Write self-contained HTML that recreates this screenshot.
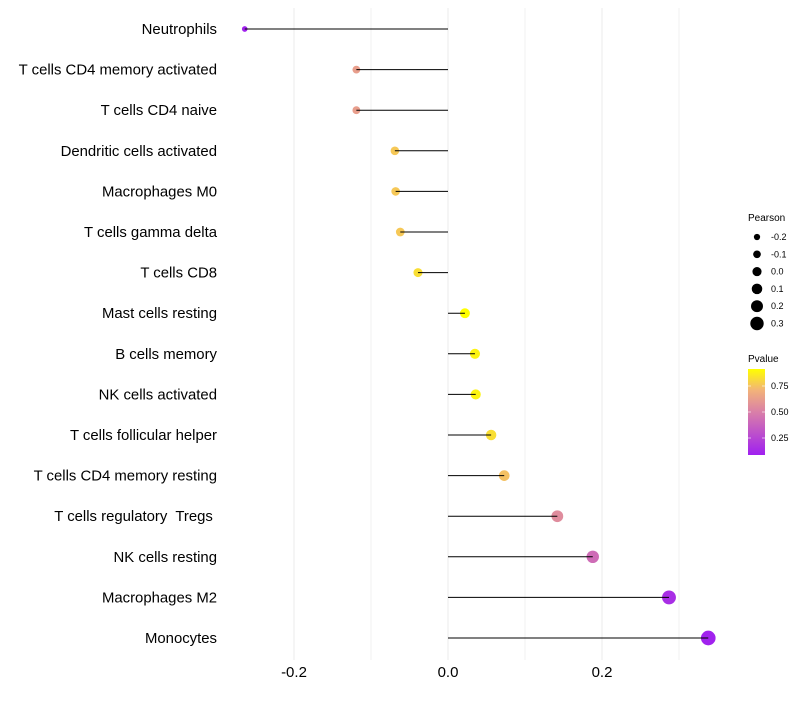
<!DOCTYPE html>
<html><head><meta charset="utf-8"><style>
body{margin:0;background:#fff;font-family:"Liberation Sans",sans-serif}
text{white-space:pre}
</style></head><body>
<svg id="c" width="800" height="700" xmlns="http://www.w3.org/2000/svg">
<defs><linearGradient id="pg" x1="0" y1="1" x2="0" y2="0">
<stop offset="0" stop-color="#a020f0"/><stop offset="0.5" stop-color="#d97fa8"/><stop offset="0.75" stop-color="#f2b27a"/><stop offset="1" stop-color="#ffff00"/></linearGradient></defs>
<g id="grid"></g><g id="dots"></g><g id="marks"></g><g id="labels"></g>
<g font-size="9" fill="#000">
<text x="748" y="221" font-size="10">Pearson</text>
<g id="sizeleg"></g>
<text x="748" y="362" font-size="10">Pvalue</text>
<rect x="748" y="369" width="17" height="86" fill="url(#pg)"/>
<g stroke="#fff" stroke-opacity="0.6"><line x1="748" y1="386" x2="751" y2="386"/><line x1="762" y1="386" x2="765" y2="386"/><line x1="748" y1="412" x2="751" y2="412"/><line x1="762" y1="412" x2="765" y2="412"/><line x1="748" y1="438" x2="751" y2="438"/><line x1="762" y1="438" x2="765" y2="438"/></g>
<text x="771" y="389">0.75</text><text x="771" y="415">0.50</text><text x="771" y="441">0.25</text>
</g>
</svg>
<script>
const categories=["Neutrophils","T cells CD4 memory activated","T cells CD4 naive","Dendritic cells activated","Macrophages M0","T cells gamma delta","T cells CD8","Mast cells resting","B cells memory","NK cells activated","T cells follicular helper","T cells CD4 memory resting","T cells regulatory  Tregs ","NK cells resting","Macrophages M2","Monocytes"];
const pearson=[-0.264,-0.119,-0.119,-0.069,-0.068,-0.062,-0.039,0.022,0.035,0.036,0.056,0.073,0.142,0.188,0.287,0.338];
const pvalue=[0.1,0.62,0.62,0.76,0.76,0.76,0.82,0.92,0.88,0.88,0.82,0.74,0.55,0.42,0.15,0.1];
const xTicks=[-0.2,0,0.2];
const xMinor=[-0.1,0.1,0.3];
const sizeLegend=[-0.2,-0.1,0.0,0.1,0.2,0.3];
const NS="http://www.w3.org/2000/svg";
const X=v=>448+v*770;
const Y=i=>29+i*40.6;
const R=v=>Math.max(1.8,4.8+7.5*v);
function lerp(a,b,t){return a.map((x,i)=>Math.round(x+(b[i]-x)*t));}
const stops=[[0.09,[160,32,240]],[0.5,[217,127,168]],[0.7,[242,178,122]],[0.91,[255,255,0]]];
function col(p){p=Math.max(0.09,Math.min(0.91,p));for(let i=0;i<stops.length-1;i++){if(p<=stops[i+1][0]){const t=(p-stops[i][0])/(stops[i+1][0]-stops[i][0]);return 'rgb('+lerp(stops[i][1],stops[i+1][1],t).join(',')+')';}}return 'rgb(255,255,0)';}
function mk(tag,at,parent){const e=document.createElementNS(NS,tag);for(const k in at)e.setAttribute(k,at[k]);parent.appendChild(e);return e;}
const grid=document.getElementById('grid'),marks=document.getElementById('marks'),labels=document.getElementById('labels'),dots=document.getElementById('dots');
xMinor.forEach(v=>{const l=mk('line',{x1:X(v),x2:X(v),y1:8,y2:660,stroke:'#f2f2f2','stroke-width':1},grid);

});
xTicks.forEach(v=>{const l=mk('line',{x1:X(v),x2:X(v),y1:8,y2:660,stroke:'#ebebeb','stroke-width':1},grid);


const t=mk('text',{x:X(v),y:677,'text-anchor':'middle','font-size':15,fill:'#000'},labels);t.textContent=v===0?'0.0':v.toFixed(1);

});
categories.forEach((c,i)=>{const y=Y(i);
const d=mk('circle',{cx:X(pearson[i]),cy:y,r:R(pearson[i]),fill:col(pvalue[i])},dots);


const s=mk('line',{x1:X(0),x2:X(pearson[i]),y1:y,y2:y,stroke:'#000','stroke-width':1},marks);


const t=mk('text',{x:217,y:y+5,'text-anchor':'end','font-size':14.9,fill:'#000'},labels);t.textContent=c;

});
const sl=document.getElementById('sizeleg');
sizeLegend.forEach((v,i)=>{const y=237+i*17.3;
const c=mk('circle',{cx:757,cy:y,r:R(v)*0.95,fill:'#000'},sl);


const t=mk('text',{x:771,y:y+3,'font-size':9},sl);t.textContent=v.toFixed(1);

});
</script>
</body></html>
